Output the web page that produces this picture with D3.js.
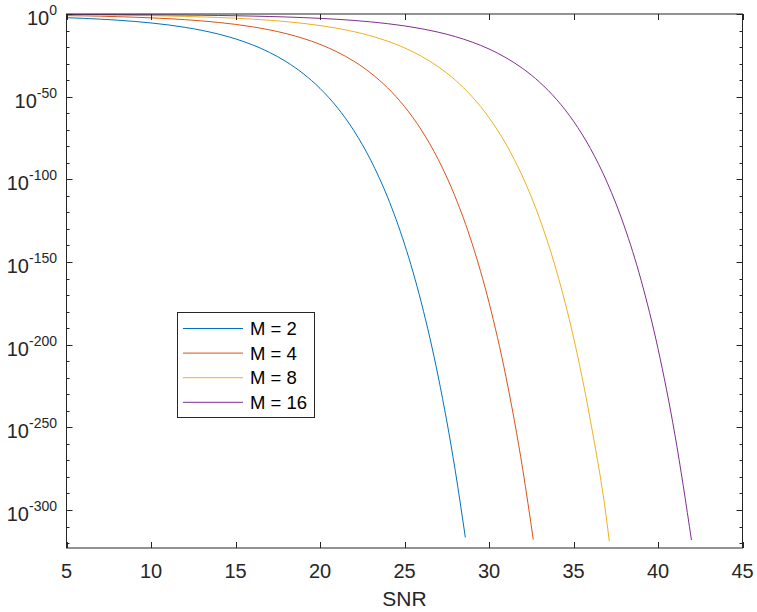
<!DOCTYPE html>
<html><head><meta charset="utf-8">
<script src="https://cdn.jsdelivr.net/npm/d3@7"></script>
<style>body{margin:0;background:#fff}svg{display:block}</style>
</head><body>
<svg id="chart" width="757" height="612"></svg>
<script>
// SNR (dB) sample points for each curve
const snrM2 = [5,6,7,8,9,10,11,12,13,14,15,16,17,18,19,20,21,22,23,24,25,26,27,28,28.6];
const snrM4 = [5,6,7,8,9,10,11,12,13,14,15,16,17,18,19,20,21,22,23,24,25,26,27,28,29,30,31,32,32.62];
const snrM8 = [5,6,7,8,9,10,11,12,13,14,15,16,17,18,19,20,21,22,23,24,25,26,27,28,29,30,31,32,33,34,35,36,37,37.12];
const snrM16 = [5,6,7,8,9,10,11,12,13,14,15,16,17,18,19,20,21,22,23,24,25,26,27,28,29,30,31,32,33,34,35,36,37,38,39,40,41,41.98];
// error probability, given as log10 values (exponent of 10)
const log10SER_M2 = [-2.225,-2.622,-3.112,-3.719,-4.474,-5.412,-6.583,-8.046,-9.876,-12.17,-15.04,-18.645,-23.17,-28.855,-36.0,-44.98,-56.27,-70.48,-88.35,-110.84,-139.14,-174.75,-219.56,-275.97,-316.6];
const log10SER_M4 = [-0.95,-1.126,-1.34,-1.603,-1.925,-2.322,-2.812,-3.419,-4.174,-5.112,-6.283,-7.745,-9.575,-11.867,-14.741,-18.345,-22.87,-28.555,-35.70,-44.68,-55.97,-70.18,-88.05,-110.54,-138.84,-174.45,-219.26,-275.67,-317.9];
const log10SER_M8 = [-0.464,-0.54,-0.632,-0.741,-0.873,-1.034,-1.227,-1.465,-1.756,-2.113,-2.554,-3.099,-3.775,-4.617,-5.665,-6.974,-8.609,-10.656,-13.222,-16.44,-20.479,-25.551,-31.923,-39.934,-50.005,-62.672,-78.605,-98.651,-123.875,-155.618,-195.567,-245.846,-309.131,-319.0];
const log10SER_M16 = [-0.231,-0.265,-0.306,-0.353,-0.408,-0.474,-0.553,-0.647,-0.76,-0.896,-1.061,-1.261,-1.505,-1.805,-2.174,-2.628,-3.192,-3.89,-4.759,-5.843,-7.196,-8.888,-11.005,-13.66,-16.989,-21.168,-26.416,-33.011,-41.301,-51.725,-64.835,-81.326,-102.075,-128.184,-161.04,-202.391,-254.435,-318.2];
const seriesNames = ["M = 2","M = 4","M = 8","M = 16"];
const seriesColors = ["#0072BD","#D95319","#EDB120","#7E2F8E"];
const xTicks = [5,10,15,20,25,30,35,40,45];
const yTickExps = [0,-50,-100,-150,-200,-250,-300];
const yMinorExps = d3.range(0,-330,-10);
const xLabel = "SNR";

const svg = d3.select("#chart");
const L = 66.5, R = 742.5, T = 14, B = 548;
const x = d3.scaleLinear().domain([5,45]).range([L,R]);
const y = d3.scaleLinear().domain([-323,0]).range([B,T]);
const ink = "#262626";

svg.append("defs").append("clipPath").attr("id","clip")
  .append("rect").attr("x",L).attr("y",T).attr("width",R-L).attr("height",B-T);

// curves
const data = [
  snrM2.map((s,i)=>({s, e: log10SER_M2[i]})),
  snrM4.map((s,i)=>({s, e: log10SER_M4[i]})),
  snrM8.map((s,i)=>({s, e: log10SER_M8[i]})),
  snrM16.map((s,i)=>({s, e: log10SER_M16[i]}))
];
const line = d3.line().x(d=>x(d.s)).y(d=>y(d.e)).curve(d3.curveMonotoneX);
svg.append("g").attr("clip-path","url(#clip)")
  .selectAll("path").data(data).join("path")
  .attr("d", line).attr("fill","none")
  .attr("stroke",(d,i)=>seriesColors[i]).attr("stroke-width",1);

// box
const g = svg.append("g").attr("stroke",ink).attr("stroke-width",1).attr("fill","none");
g.append("rect").attr("x",L).attr("y",T).attr("width",R-L).attr("height",B-T);

// x ticks (bottom + top, inward)
xTicks.forEach(v=>{
  const px = Math.round(x(v))+0.5;
  g.append("line").attr("x1",px).attr("x2",px).attr("y1",B).attr("y2",B-6);
  g.append("line").attr("x1",px).attr("x2",px).attr("y1",T).attr("y2",T+6);
});
// y ticks
yMinorExps.forEach(v=>{
  const py = Math.round(y(v))+0.5;
  const len = (v % 50 === 0) ? 6 : 3;
  g.append("line").attr("x1",L).attr("x2",L+len).attr("y1",py).attr("y2",py);
  g.append("line").attr("x1",R).attr("x2",R-len).attr("y1",py).attr("y2",py);
});

const font = "'Liberation Sans', Arial, Helvetica, sans-serif";
// x tick labels
svg.append("g").selectAll("text").data(xTicks).join("text")
  .attr("x",d=>x(d)).attr("y",B+30).attr("text-anchor","middle")
  .attr("font-family",font).attr("font-size",20).attr("fill",ink).text(d=>d);
// y tick labels
const yl = svg.append("g").selectAll("text").data(yTickExps).join("text")
  .attr("x",57).attr("y",d=>y(d)+11).attr("text-anchor","end")
  .attr("font-family",font).attr("font-size",20).attr("fill",ink);
yl.append("tspan").text("10");
yl.append("tspan").attr("dy",-10).attr("font-size",14).text(d=>String(d));

// x label
svg.append("text").attr("x",(L+R)/2).attr("y",606).attr("text-anchor","middle")
  .attr("font-family",font).attr("font-size",21).attr("fill",ink).text(xLabel);

// legend
const lg = svg.append("g");
lg.append("rect").attr("x",177.5).attr("y",312.5).attr("width",137).attr("height",105)
  .attr("fill","#fff").attr("stroke",ink).attr("stroke-width",1);
seriesNames.forEach((n,i)=>{
  const cy = 328.5 + i*24.6;
  lg.append("line").attr("x1",183).attr("x2",243).attr("y1",cy).attr("y2",cy)
    .attr("stroke",seriesColors[i]).attr("stroke-width",1);
  lg.append("text").attr("x",250).attr("y",cy+6.5).attr("font-family",font)
    .attr("font-size",18.5).attr("fill","#000").text(n);
});
</script>
</body></html>
